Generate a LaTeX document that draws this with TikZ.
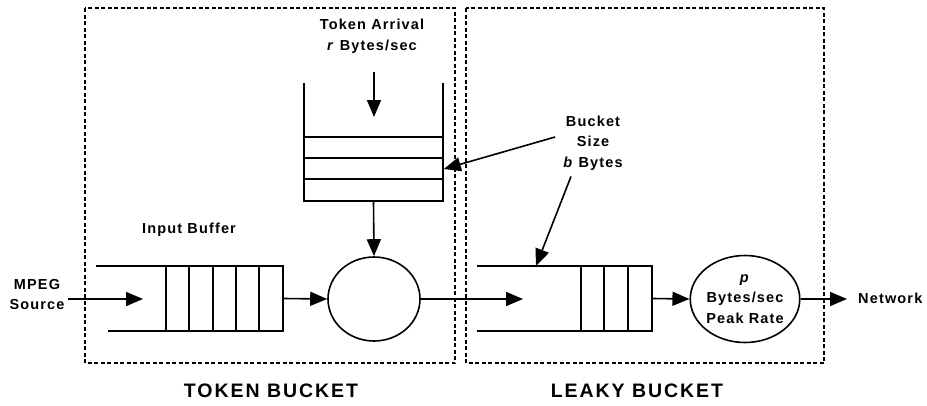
\documentclass[tikz,border=0pt]{standalone}
\usepackage{fontspec}
\setmainfont{Liberation Sans}[LetterSpace=8]
\usetikzlibrary{shapes.geometric,arrows.meta}
\begin{document}
\begin{tikzpicture}[x=1pt,y=-1pt,
  solidln/.style={line width=1.6pt},
  arr/.style={line width=1.6pt,-{Triangle[length=17pt,width=14pt]}},
  dframe/.style={draw,line width=1.2pt,dash pattern=on 4pt off 2.5pt},
  lab/.style={font=\fontsize{14.5}{20.5}\selectfont\bfseries,align=center,inner sep=0pt},
  biglab/.style={font=\fontsize{19.5}{22}\selectfont\bfseries\addfontfeatures{LetterSpace=10},inner sep=0pt},
  cellbox/.style={draw,line width=1.6pt,inner sep=0pt},
  srv/.style={ellipse,draw,line width=1.6pt,inner sep=0pt}]
\useasboundingbox (0,0) rectangle (927,405);
% frames
\draw[dframe] (85,8) rectangle (455,363);
\draw[dframe] (466,8) rectangle (824,363);
\node[biglab] (tbl) at (271,391) {TOKEN BUCKET};
\node[biglab] (lbl) at (637,391) {LEAKY BUCKET};
% token bucket
\node[lab] (ta) at (372,36) {Token Arrival\\\textit{r} Bytes/sec};
\draw[solidln] (304,83) -- (304,201);
\draw[solidln] (443,83) -- (443,201);
\node[cellbox,minimum width=139pt,minimum height=64pt] (tb) at (373.5,169) {};
\draw[solidln] (304,158) -- (443,158);
\draw[solidln] (304,179) -- (443,179);
\coordinate (tkend) at (374,117);
\draw[arr,shorten <=19pt] (ta.south -| tkend) -- (tkend);
% input buffer
\node[lab] (mpeg) at (37,294.5) {MPEG\\Source};
\node[lab] (ibl) at (189,230) {Input Buffer};
\draw[solidln] (96,266) -- (283,266);
\draw[solidln] (108,331) -- (283,331);
\node[cellbox,minimum width=117pt,minimum height=65pt] (ib) at (224.5,298.5) {};
\foreach \x in {189,213,236,259} \draw[solidln] (\x,266) -- (\x,331);
\coordinate (ibin) at (143,299);
\draw[arr,shorten <=3pt] (mpeg.east |- ibin) -- (ibin);
% token server
\node[srv,minimum width=92pt,minimum height=84pt] (c1) at (374,299) {};
\draw[arr] (tb.south) -- (c1.north);
\draw[arr] (ib.east) -- (c1.west);
% leaky bucket
\draw[solidln] (477,266) -- (652,266);
\draw[solidln] (477,331) -- (652,331);
\node[cellbox,minimum width=71pt,minimum height=65pt] (lb) at (616.5,298.5) {};
\foreach \x in {604,628} \draw[solidln] (\x,266) -- (\x,331);
\coordinate (lbin) at (523,299);
\draw[arr] (c1.east) -- (lbin);
\node[srv,minimum width=94pt,minimum height=87pt,lab] (c2) at (745,299) {\textit{p}\\Bytes/sec\\Peak Rate};
\draw[arr] (lb.east) -- (c2.west);
\node[lab,anchor=west] (net) at (858,298) {Network};
\coordinate (netin) at (847,299);
\draw[arr] (c2.east) -- (netin);
% bucket size
\node[lab] (bs) at (593,143) {Bucket\\Size\\\textit{b} Bytes};
\coordinate (lbtop) at (536,266);
\draw[arr] (bs.west |- 0,137) ++(-8,0) -- (tb.east);
\draw[arr] ([xshift=-22pt,yshift=-6pt]bs.south) -- (lbtop);
\end{tikzpicture}
\end{document}
